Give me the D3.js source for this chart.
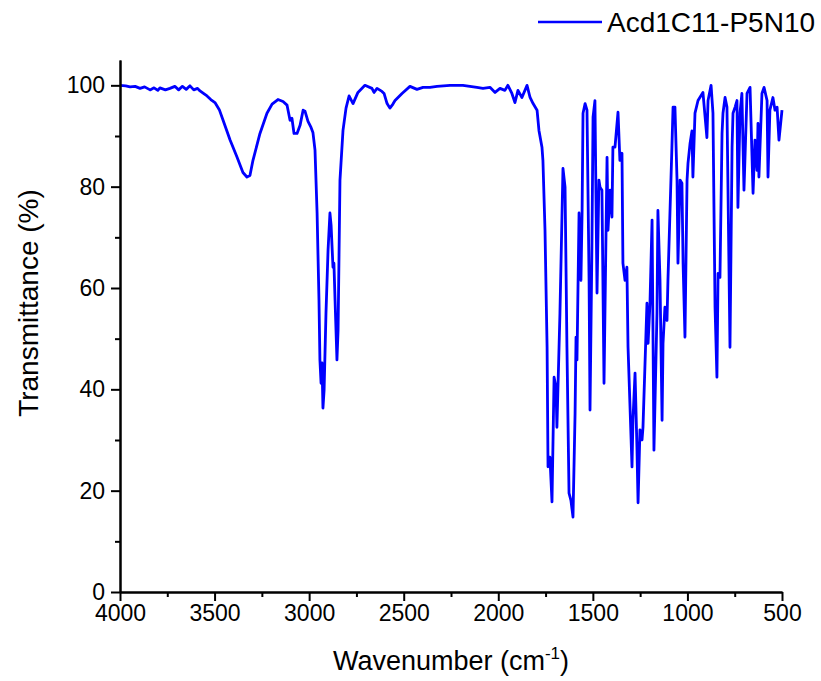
<!DOCTYPE html>
<html>
<head>
<meta charset="utf-8">
<script src="https://cdn.jsdelivr.net/npm/d3@7"></script>
<style>
  body { margin: 0; background: #fff; }
  svg { display: block; font-family: "Liberation Sans", Arial, sans-serif; }
  .axis path, .axis line { stroke: #000; stroke-width: 2; }
  .axis text { font-family: "Liberation Sans", Arial, sans-serif; font-size: 23px; fill: #000; }
</style>
</head>
<body>
<svg id="svg" width="821" height="681"></svg>
<script>
  // series name
  var seriesName = "Acd1C11-P5N10";

  // wavenumber (cm-1)
  var wavenumber = [
    4000, 3970, 3947, 3920, 3894, 3870, 3841, 3820, 3800, 3789, 3760, 3736, 3710, 3690, 3670, 3650,
    3630, 3610, 3590, 3577, 3555, 3540, 3520, 3498, 3475, 3455, 3418, 3381, 3350, 3329, 3313, 3297,
    3260, 3223, 3196, 3165, 3138, 3117, 3101, 3091, 3080, 3064, 3048, 3032, 3022, 3006, 2990, 2980,
    2969, 2958, 2948, 2943, 2937, 2932, 2927, 2921, 2911, 2900, 2890, 2884, 2874, 2869, 2863, 2853,
    2847, 2837, 2821, 2805, 2789, 2768, 2742, 2705, 2668, 2657, 2641, 2615, 2604, 2588, 2573, 2557,
    2546, 2509, 2467, 2430, 2398, 2361, 2324, 2255, 2187, 2113, 2081, 2044, 2017, 1991, 1965, 1949,
    1928, 1912, 1896, 1875, 1848, 1832, 1816, 1795, 1785, 1769, 1764, 1753, 1742, 1737, 1727, 1716,
    1705, 1695, 1690, 1674, 1658, 1647, 1637, 1626, 1616, 1605, 1594, 1589, 1584, 1573, 1563, 1557,
    1552, 1541, 1531, 1520, 1515, 1505, 1499, 1489, 1478, 1468, 1462, 1452, 1441, 1425, 1420, 1409,
    1399, 1394, 1383, 1367, 1357, 1346, 1341, 1330, 1320, 1314, 1293, 1288, 1277, 1267, 1261, 1251,
    1240, 1235, 1214, 1208, 1198, 1187, 1177, 1161, 1156, 1145, 1134, 1129, 1119, 1108, 1103, 1082,
    1076, 1066, 1055, 1050, 1039, 1029, 1023, 1013, 1002, 997, 986, 976, 971, 960, 944, 918,
    897, 891, 875, 865, 854, 844, 838, 828, 817, 812, 801, 791, 775, 764, 759, 748,
    738, 733, 722, 712, 701, 685, 669, 653, 643, 632, 627, 622, 606, 595, 579, 574,
    564, 548, 537, 526, 516, 500
  ];

  // transmittance (%) for each wavenumber
  var transmittance = [
    100.0, 99.9, 99.7, 99.8, 99.4, 99.7, 99.1, 99.5, 99.0, 99.5, 99.1, 99.4, 99.8, 99.1, 99.8, 99.2,
    99.9, 99.1, 99.4, 98.9, 98.3, 97.9, 97.2, 96.6, 95.2, 93.1, 89.2, 85.8, 82.8, 81.9, 82.2, 85.2,
    90.5, 94.5, 96.3, 97.2, 96.8, 96.1, 93.1, 93.5, 90.5, 90.5, 92.1, 95.1, 94.9, 92.9, 91.7, 90.7,
    87.2, 74.8, 57.6, 45.8, 41.2, 45.2, 36.3, 39.8, 55.0, 67.5, 74.8, 72.4, 64.1, 64.9, 57.6, 45.8,
    51.7, 81.3, 91.1, 95.5, 97.9, 96.4, 98.6, 100.0, 99.4, 98.6, 99.4, 98.8, 98.4, 96.4, 95.5, 96.3,
    97.0, 98.4, 99.8, 99.2, 99.6, 99.6, 99.8, 100.0, 100.0, 99.6, 99.4, 99.6, 98.6, 99.4, 99.0, 100.0,
    98.4, 96.6, 99.0, 97.6, 100.0, 97.6, 96.4, 95.1, 91.1, 87.8, 85.2, 71.4, 48.3, 24.7, 26.6, 17.8,
    42.4, 40.4, 32.5, 55.0, 83.6, 79.9, 48.3, 19.5, 18.1, 14.8, 35.3, 50.3, 45.8, 74.8, 61.5, 74.8,
    94.5, 96.4, 95.1, 61.5, 35.9, 68.0, 93.7, 97.0, 59.0, 81.3, 79.9, 79.3, 41.2, 85.8, 71.4, 79.3,
    74.0, 87.8, 87.8, 94.7, 85.2, 86.6, 64.9, 61.5, 64.1, 48.3, 24.7, 33.9, 43.2, 28.6, 17.6, 32.0,
    30.0, 32.5, 57.0, 49.1, 57.0, 73.4, 28.0, 55.0, 75.3, 61.5, 33.9, 49.1, 56.2, 53.6, 61.5, 87.8,
    95.7, 95.7, 81.3, 64.9, 81.3, 80.7, 64.9, 50.3, 81.3, 84.6, 88.6, 91.0, 81.9, 94.5, 97.0, 98.6,
    89.7, 97.0, 100.0, 94.5, 56.2, 42.4, 62.9, 62.1, 90.5, 94.5, 97.6, 95.7, 48.3, 87.8, 94.5, 95.7,
    97.0, 75.9, 94.5, 98.4, 79.3, 98.4, 99.6, 78.7, 89.2, 83.2, 92.5, 81.9, 98.4, 99.6, 97.0, 81.9,
    95.1, 97.6, 95.1, 95.7, 89.2, 95.1
  ];

  // tick values
  var xTicks = [4000, 3500, 3000, 2500, 2000, 1500, 1000, 500];
  var xMinorTicks = [3750, 3250, 2750, 2250, 1750, 1250, 750];
  var yTicks = [0, 20, 40, 60, 80, 100];
  var yMinorTicks = [10, 30, 50, 70, 90];

  // plot box (don't call it "top", that's window.top)
  var plotLeft = 120, plotRight = 782, plotTop = 60, plotBottom = 592;

  var svg = d3.select("#svg");

  var x = d3.scaleLinear().domain([4000, 500]).range([plotLeft, plotRight]);
  var y = d3.scaleLinear().domain([0, 105]).range([plotBottom, plotTop]);

  var points = wavenumber.map(function(w, i) { return [w, transmittance[i]]; });

  ////////////////////////////
  // spectrum

  var line = d3.line()
    .x(function(d) { return x(d[0]); })
    .y(function(d) { return y(d[1]); });

  svg.append("path")
    .datum(points)
    .attr("d", line)
    .attr("fill", "none")
    .attr("stroke", "#0000ff")
    .attr("stroke-width", 2.8)
    .attr("stroke-linejoin", "round");

  ////////////////////////////
  // axes

  svg.append("g")
    .attr("class", "axis")
    .attr("transform", "translate(0," + plotBottom + ")")
    .call(d3.axisBottom(x).tickValues(xMinorTicks).tickSize(5).tickSizeOuter(0).tickFormat(""));

  svg.append("g")
    .attr("class", "axis")
    .attr("transform", "translate(0," + plotBottom + ")")
    .call(d3.axisBottom(x).tickValues(xTicks).tickSize(9).tickSizeOuter(0).tickPadding(4).tickFormat(d3.format("d")));

  svg.append("g")
    .attr("class", "axis")
    .attr("transform", "translate(" + plotLeft + ",0)")
    .call(d3.axisLeft(y).tickValues(yMinorTicks).tickSize(5).tickSizeOuter(0).tickFormat(""));

  svg.append("g")
    .attr("class", "axis")
    .attr("transform", "translate(" + plotLeft + ",0)")
    .call(d3.axisLeft(y).tickValues(yTicks).tickSize(9).tickSizeOuter(0).tickPadding(6).tickFormat(d3.format("d")));

  ////////////////////////////
  // axis titles

  var xTitle = svg.append("text")
    .attr("x", (plotLeft + plotRight) / 2)
    .attr("y", 670)
    .attr("text-anchor", "middle")
    .attr("font-size", 27);
  xTitle.append("tspan").text("Wavenumber (cm");
  xTitle.append("tspan").attr("font-size", 17).attr("dy", -11).text("-1");
  xTitle.append("tspan").attr("dy", 11).text(")");

  svg.append("text")
    .attr("transform", "translate(38,303) rotate(-90)")
    .attr("text-anchor", "middle")
    .attr("font-size", 28)
    .text("Transmittance (%)");

  ////////////////////////////
  // legend

  svg.append("line")
    .attr("x1", 538).attr("x2", 602)
    .attr("y1", 22).attr("y2", 22)
    .attr("stroke", "#0000ff")
    .attr("stroke-width", 2.5);

  svg.append("text")
    .attr("x", 607)
    .attr("y", 32)
    .attr("font-size", 28)
    .text(seriesName);
</script>
</body>
</html>
